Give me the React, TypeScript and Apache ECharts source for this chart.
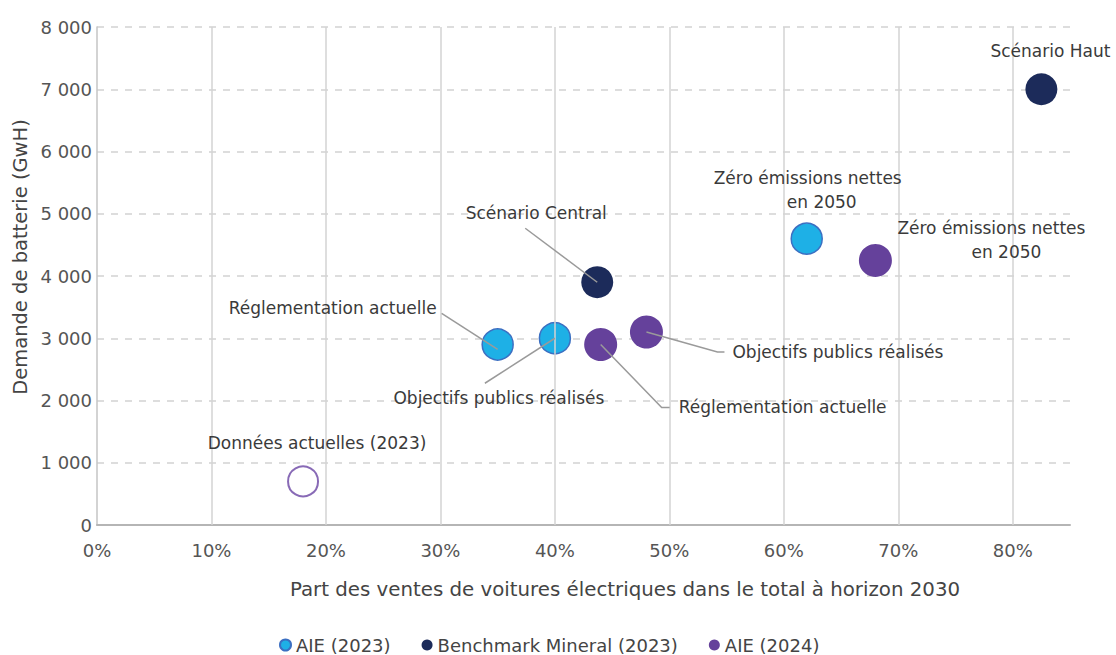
import React, { useEffect, useRef } from "react";
import * as echarts from "echarts";

// ---- data ----
const xTicks = [0, 0.1, 0.2, 0.3, 0.4, 0.5, 0.6, 0.7, 0.8];
const yTicks = [0, 1000, 2000, 3000, 4000, 5000, 6000, 7000, 8000];

const aie2023Name = "AIE (2023)";
const aie2023X = [0.35, 0.40, 0.62];
const aie2023Y = [2900, 3000, 4600];

const benchName = "Benchmark Mineral (2023)";
const benchX = [0.437, 0.825];
const benchY = [3900, 7000];

const aie2024Name = "AIE (2024)";
const aie2024X = [0.44, 0.48, 0.68];
const aie2024Y = [2900, 3100, 4250];

const currentName = "Données actuelles (2023)";
const currentX = [0.18];
const currentY = [700];

const xTitle = "Part des ventes de voitures électriques dans le total à horizon 2030";
const yTitle = "Demande de batterie (GwH)";

// ---- annotation layout (pixel offsets from the point) ----
type Ann = {
  xs: number[];
  ys: number[];
  i: number;
  lines: { text: string; dx: number; dy: number; align: string }[];
  leader?: number[][];
};
const annotations: Ann[] = [
  { xs: benchX, ys: benchY, i: 0, lines: [{ text: "Scénario Central", dx: -61, dy: -69, align: "center" }], leader: [[0, 0], [-72, -54]] },
  { xs: benchX, ys: benchY, i: 1, lines: [{ text: "Scénario Haut", dx: 9, dy: -38, align: "center" }] },
  { xs: aie2023X, ys: aie2023Y, i: 0, lines: [{ text: "Réglementation actuelle", dx: -61, dy: -36, align: "right" }], leader: [[0, 5], [-56, -31]] },
  { xs: aie2023X, ys: aie2023Y, i: 1, lines: [{ text: "Objectifs publics réalisés", dx: -56, dy: 60, align: "center" }], leader: [[0, 0], [-70, 45]] },
  { xs: aie2023X, ys: aie2023Y, i: 2, lines: [
    { text: "Zéro émissions nettes", dx: 1, dy: -61, align: "center" },
    { text: "en 2050", dx: 15, dy: -37, align: "center" },
  ] },
  { xs: aie2024X, ys: aie2024Y, i: 0, lines: [{ text: "Réglementation actuelle", dx: 78, dy: 63, align: "left" }], leader: [[0, 0], [61, 63], [69, 63]] },
  { xs: aie2024X, ys: aie2024Y, i: 1, lines: [{ text: "Objectifs publics réalisés", dx: 86, dy: 20, align: "left" }], leader: [[0, 0], [71, 20], [78, 20]] },
  { xs: aie2024X, ys: aie2024Y, i: 2, lines: [
    { text: "Zéro émissions nettes", dx: 116, dy: -32, align: "center" },
    { text: "en 2050", dx: 131, dy: -8, align: "center" },
  ] },
  { xs: currentX, ys: currentY, i: 0, lines: [{ text: "Données actuelles (2023)", dx: 14, dy: -38, align: "center" }] },
];

const FONT = "'DejaVu Sans', sans-serif";
const TEXT = "#3a3a3a";

const zip = (xs: number[], ys: number[]) => xs.map((x, i) => [x, ys[i]]);
const thousands = (v: number) => String(v).replace(/\B(?=(\d{3})+(?!\d))/g, " ");

export default function App() {
  const ref = useRef<HTMLDivElement>(null);
  useEffect(() => {
    if (!ref.current) return;
    const chart = echarts.init(ref.current, null, { renderer: "svg" });
    const option: any = {
      animation: false,
      backgroundColor: "#ffffff",
      textStyle: { fontFamily: FONT },
      grid: { left: 97, right: 46, top: 27, bottom: 130, containLabel: false },
      xAxis: {
        type: "value",
        min: 0,
        max: 0.85,
        interval: 0.1,
        axisLine: { show: true, lineStyle: { color: "#b5b5b5", width: 2 } },
        axisTick: { show: false },
        splitLine: { show: false },
        axisLabel: {
          margin: 16,
          fontSize: 18,
          color: "#555",
          fontFamily: FONT,
          showMaxLabel: false,
          formatter: (v: number) => (v > 0.801 ? "" : Math.round(v * 100) + "%"),
        },
      },
      yAxis: {
        type: "value",
        min: 0,
        max: 8000,
        interval: 1000,
        axisLine: { show: true, lineStyle: { color: "#c4c4c4", width: 1.5 } },
        axisTick: { show: false },
        splitLine: { show: true, lineStyle: { color: "#d2d2d2", type: [7, 7], width: 1.5 } },
        axisLabel: { margin: 5, fontSize: 18, color: "#555", fontFamily: FONT, formatter: (v: number) => thousands(v) },
      },
      legend: {
        data: [aie2023Name, benchName, aie2024Name],
        left: 274,
        top: 630,
        icon: "circle",
        itemWidth: 11,
        itemHeight: 11,
        itemGap: 31,
        textStyle: { fontSize: 18, color: "#444", fontFamily: FONT, lineHeight: 20 },
      },
      series: [
        {
          type: "scatter",
          data: [],
          z: 1,
          silent: true,
          markLine: {
            silent: true,
            symbol: ["none", "none"],
            label: { show: false },
            lineStyle: { color: "#d3d3d3", type: "solid", width: 1.5 },
            data: xTicks.filter((v) => v > 0).map((v) => ({ xAxis: v })),
          },
        },
        {
          name: currentName,
          type: "scatter",
          symbolSize: 30,
          z: 3,
          data: zip(currentX, currentY),
          itemStyle: { color: "#ffffff", borderColor: "#6a45a4", borderWidth: 2 },
        },
        {
          name: aie2023Name,
          type: "scatter",
          symbolSize: 31,
          z: 3,
          data: zip(aie2023X, aie2023Y),
          itemStyle: { color: "#1eb0e6", borderColor: "#3b6fc2", borderWidth: 1.5, opacity: 1 },
        },
        {
          name: benchName,
          type: "scatter",
          symbolSize: 32,
          z: 3,
          data: zip(benchX, benchY),
          itemStyle: { color: "#1c2b5a", opacity: 1 },
        },
        {
          name: aie2024Name,
          type: "scatter",
          symbolSize: 33,
          z: 3,
          data: zip(aie2024X, aie2024Y),
          itemStyle: { color: "#65419b", opacity: 1 },
        },
      ],
    };
    chart.setOption(option);

    const elements: any[] = [];
    annotations.forEach((a) => {
      const p = chart.convertToPixel({ gridIndex: 0 } as any, [a.xs[a.i], a.ys[a.i]]) as number[];
      if (a.leader) {
        elements.push({
          type: "polyline",
          z: 100,
          silent: true,
          shape: { points: a.leader.map(([dx, dy]) => [p[0] + dx, p[1] + dy]) },
          style: { stroke: "#9a9a9a", lineWidth: 1.5, fill: null },
        });
      }
      a.lines.forEach((l) => {
        elements.push({
          type: "text",
          z: 100,
          silent: true,
          x: p[0] + l.dx,
          y: p[1] + l.dy,
          style: {
            text: l.text,
            fill: TEXT,
            font: `17px ${FONT}`,
            align: l.align,
            verticalAlign: "middle",
            textAlign: l.align,
            textVerticalAlign: "middle",
          },
        });
      });
    });
    elements.push({
      type: "text",
      silent: true,
      x: 625,
      y: 589,
      style: { text: xTitle, fill: "#444", font: `19.8px ${FONT}`, align: "center", verticalAlign: "middle", textAlign: "center", textVerticalAlign: "middle" },
    });
    elements.push({
      type: "text",
      silent: true,
      x: 20,
      y: 257,
      rotation: Math.PI / 2,
      style: { text: yTitle, fill: "#444", font: `19.5px ${FONT}`, align: "center", verticalAlign: "middle", textAlign: "center", textVerticalAlign: "middle" },
    });
    chart.setOption({ graphic: { elements } });

    return () => chart.dispose();
  }, []);
  return <div ref={ref} style={{ position: "fixed", left: 0, top: 0, width: 1116, height: 655 }} />;
}
